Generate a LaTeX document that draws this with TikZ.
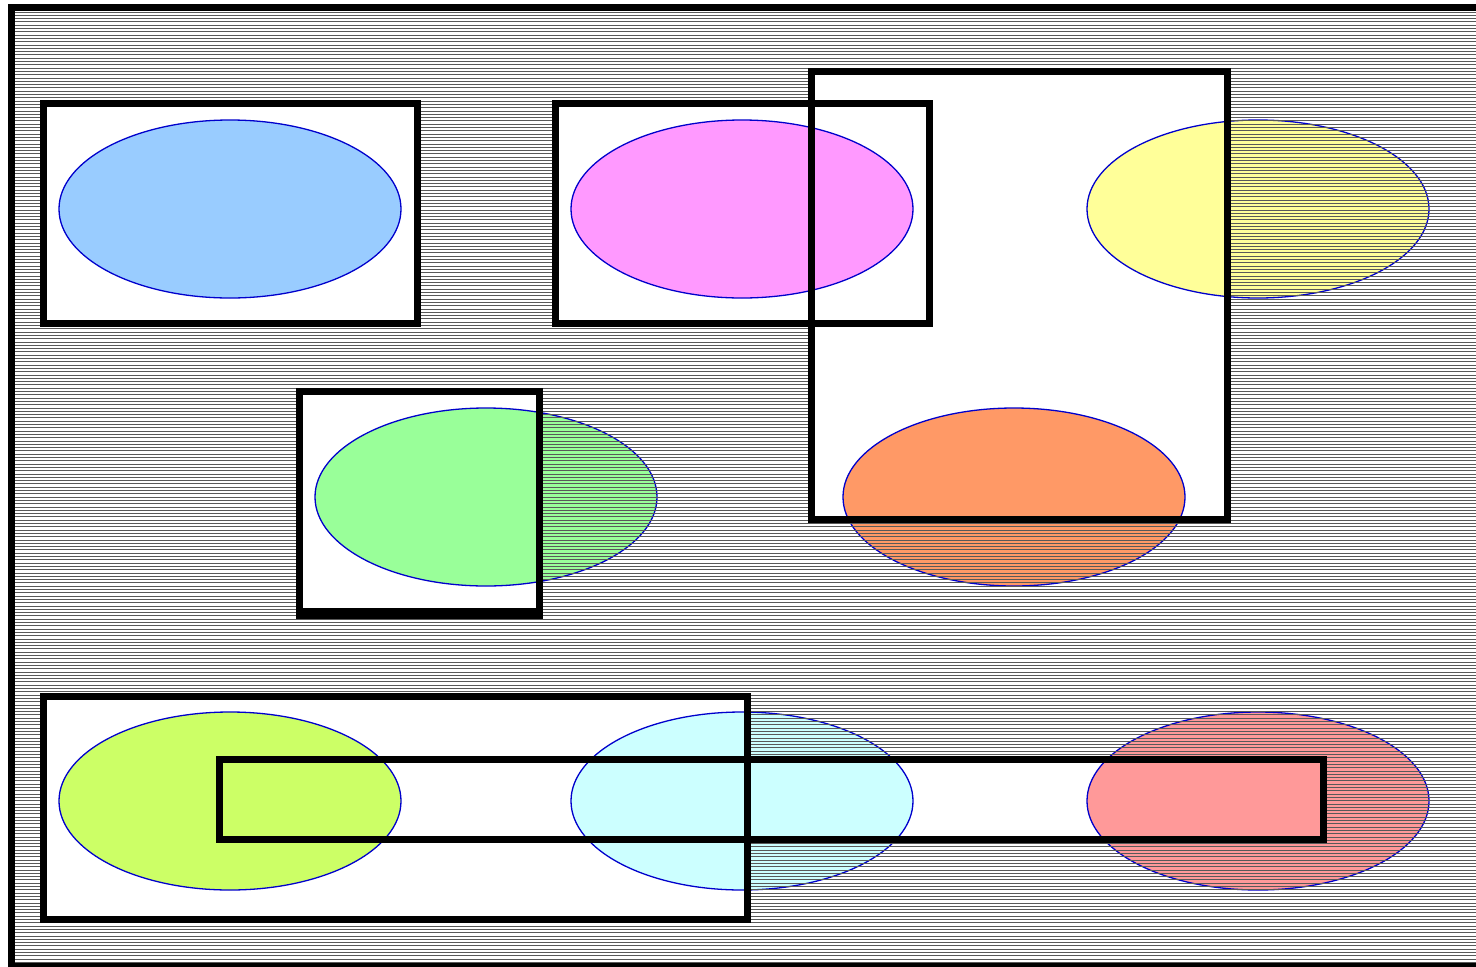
\documentclass[tikz,border=0pt]{standalone}
\begin{document}
\begin{tikzpicture}[x=1pt,y=-1pt,
  frame/.style={draw=black,line width=7pt},
  blob/.style={draw=blue!80!black,line width=1.3pt,x radius=171pt,y radius=89pt},
  hatchline/.style={draw=black!65,line width=1pt}]
\useasboundingbox (0,0) rectangle (1476,967);
\fill[white] (0,0) rectangle (1476,967);
\newcommand{\drawblobs}{%
  \filldraw[blob,fill={rgb,255:red,153;green,204;blue,255}] (230,209) ellipse [];
  \filldraw[blob,fill={rgb,255:red,255;green,153;blue,255}] (742,209) ellipse [];
  \filldraw[blob,fill={rgb,255:red,255;green,255;blue,153}] (1258,209) ellipse [];
  \filldraw[blob,fill={rgb,255:red,153;green,255;blue,153}] (486,497) ellipse [];
  \filldraw[blob,fill={rgb,255:red,255;green,153;blue,102}] (1014,497) ellipse [];
  \filldraw[blob,fill={rgb,255:red,204;green,255;blue,102}] (230,801) ellipse [];
  \filldraw[blob,fill={rgb,255:red,204;green,255;blue,255}] (742,801) ellipse [];
  \filldraw[blob,fill={rgb,255:red,255;green,153;blue,153}] (1258,801) ellipse [];}
\drawblobs
% hatching over the whole frame
\begin{scope}
  \clip (11,7.5) rectangle (1490,966);
  \foreach \k in {0,...,290} {
    \draw[hatchline] (0,{12+3.3*\k}) -- (1476,{12+3.3*\k});
  }
\end{scope}
% clear windows
\foreach \a/\b/\c/\d in {43/103/417/323, 555/103/929/323, 811/71/1227/519, 299/391/539/614, 43/696/747/919, 219/760/1323/839} {
  \begin{scope}
    \clip (\a,\b) rectangle (\c,\d);
    \fill[white] (\a,\b) rectangle (\c,\d);
    \drawblobs
  \end{scope}
}
% frames
\draw[frame] (11,7.5) rectangle (1490,966);
\node[frame,inner sep=0pt,minimum width=374pt,minimum height=220pt] (ra) at (230,213) {};
\node[frame,inner sep=0pt,minimum width=374pt,minimum height=220pt] (rb) at (742,213) {};
\node[frame,inner sep=0pt,minimum width=416pt,minimum height=448pt] (rc) at (1019,295) {};
\node[frame,inner sep=0pt,minimum width=240pt,minimum height=222pt] (rd) at (419,502) {};
\fill[black] (295.5,607.7) rectangle (542.5,619.3);
\node[frame,inner sep=0pt,minimum width=704pt,minimum height=223pt] (re) at (395,807.5) {};
\node[frame,inner sep=0pt,minimum width=1104pt,minimum height=80pt] (rf) at (771,799.5) {};
\end{tikzpicture}
\end{document}
